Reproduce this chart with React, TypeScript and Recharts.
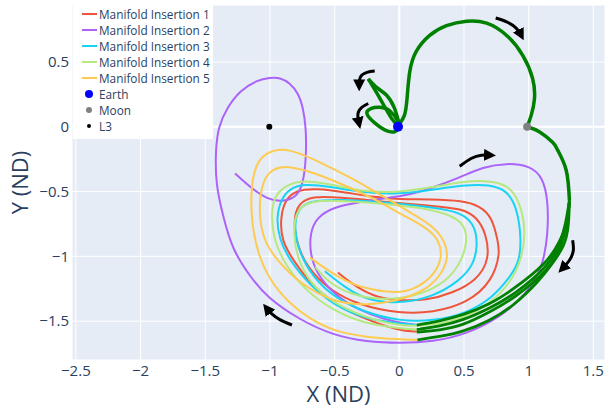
import React from 'react';
import {
  ScatterChart,
  Scatter,
  XAxis,
  YAxis,
  CartesianGrid,
  ReferenceLine,
} from 'recharts';

// axis ticks (ND units)
const X_TICKS = [-2.5, -2, -1.5, -1, -0.5, 0, 0.5, 1, 1.5];
const Y_TICKS = [-1.5, -1, -0.5, 0, 0.5];

// manifold insertion trajectories, [x, y] in ND units, starting at the insertion point
const INSERTION_1 = [
  [0.135, -1.58], [0.0, -1.575], [-0.305, -1.47], [-0.51, -1.36], [-0.69, -1.21], [-0.82, -1.03],
  [-0.91, -0.88], [-0.92, -0.7], [-0.88, -0.56], [-0.8, -0.49], [-0.64, -0.475], [-0.42, -0.505],
  [-0.19, -0.545], [0.0, -0.56], [0.24, -0.56], [0.49, -0.57], [0.62, -0.61], [0.72, -0.7],
  [0.76, -0.88], [0.78, -0.97], [0.72, -1.19], [0.53, -1.36], [0.26, -1.435], [0.0, -1.44],
  [-0.305, -1.38], [-0.54, -1.26], [-0.71, -1.09], [-0.79, -0.915], [-0.82, -0.72], [-0.78, -0.59],
  [-0.675, -0.535], [-0.46, -0.545], [-0.15, -0.575], [0.24, -0.61], [0.49, -0.63], [0.6, -0.7],
  [0.67, -0.82], [0.7, -1.02], [0.6, -1.185], [0.41, -1.285], [0.21, -1.34], [0.0, -1.34],
  [-0.17, -1.32], [-0.33, -1.24], [-0.475, -1.125],
];

const INSERTION_2 = [
  [0.135, -1.53], [0.0, -1.51], [-0.1, -1.49], [-0.31, -1.42], [-0.51, -1.29], [-0.64, -1.13],
  [-0.69, -0.98], [-0.69, -0.82], [-0.64, -0.7], [-0.51, -0.62], [-0.31, -0.58], [-0.1, -0.55],
  [0.06, -0.53], [0.26, -0.47], [0.47, -0.39], [0.645, -0.31], [0.83, -0.28], [1.01, -0.3],
  [1.11, -0.39], [1.15, -0.57], [1.15, -0.82], [1.11, -1.085], [0.985, -1.29], [0.78, -1.47],
  [0.52, -1.6], [0.26, -1.66], [0.0, -1.67], [-0.25, -1.66], [-0.51, -1.61], [-0.77, -1.49],
  [-1.02, -1.32], [-1.15, -1.16], [-1.29, -0.95], [-1.36, -0.7], [-1.42, -0.44], [-1.42, -0.18],
  [-1.4, 0.0], [-1.33, 0.15], [-1.23, 0.28], [-1.1, 0.36], [-1.0, 0.38], [-0.92, 0.38],
  [-0.85, 0.34], [-0.78, 0.26], [-0.745, 0.15], [-0.72, 0.0], [-0.72, -0.26], [-0.745, -0.44],
  [-0.79, -0.54], [-0.9, -0.58], [-1.02, -0.56], [-1.15, -0.47], [-1.27, -0.36],
];

const INSERTION_3 = [
  [0.135, -1.53], [0.0, -1.52], [-0.27, -1.48], [-0.5, -1.38], [-0.69, -1.225], [-0.85, -1.03],
  [-0.93, -0.86], [-0.95, -0.7], [-0.915, -0.56], [-0.85, -0.48], [-0.745, -0.44], [-0.54, -0.46],
  [-0.27, -0.51], [0.0, -0.52], [0.24, -0.49], [0.49, -0.45], [0.7, -0.445], [0.83, -0.49],
  [0.91, -0.62], [0.945, -0.875], [0.925, -1.05], [0.855, -1.16], [0.72, -1.32], [0.52, -1.44],
  [0.26, -1.5], [0.0, -1.5], [-0.27, -1.43], [-0.5, -1.32], [-0.675, -1.155], [-0.78, -0.955],
  [-0.815, -0.76], [-0.78, -0.63], [-0.69, -0.57], [-0.46, -0.56], [-0.15, -0.58], [0.24, -0.62],
  [0.49, -0.66], [0.59, -0.77], [0.605, -0.93], [0.57, -1.07], [0.47, -1.185], [0.26, -1.315],
  [0.0, -1.365], [-0.25, -1.34], [-0.42, -1.24], [-0.575, -1.115],
];

const INSERTION_4 = [
  [0.135, -1.565], [0.0, -1.555], [-0.27, -1.52], [-0.51, -1.42], [-0.73, -1.26], [-0.88, -1.07],
  [-0.97, -0.875], [-0.99, -0.68], [-0.97, -0.545], [-0.89, -0.46], [-0.77, -0.41], [-0.54, -0.44],
  [-0.27, -0.505], [0.0, -0.505], [0.24, -0.47], [0.49, -0.42], [0.7, -0.415], [0.84, -0.45],
  [0.93, -0.57], [0.98, -0.8], [0.945, -1.03], [0.855, -1.21], [0.7, -1.365], [0.52, -1.47],
  [0.26, -1.535], [0.0, -1.54], [-0.27, -1.47], [-0.51, -1.36], [-0.69, -1.21], [-0.79, -1.015],
  [-0.82, -0.815], [-0.8, -0.645], [-0.69, -0.57], [-0.46, -0.57], [-0.15, -0.59], [0.24, -0.63],
  [0.47, -0.71], [0.53, -0.82], [0.5, -1.01], [0.37, -1.2], [0.13, -1.31], [-0.13, -1.34],
  [-0.38, -1.295], [-0.55, -1.2], [-0.65, -1.08],
];

const INSERTION_5 = [
  [0.14, -1.645], [0.0, -1.64], [-0.25, -1.625], [-0.5, -1.58], [-0.69, -1.485], [-0.86, -1.355],
  [-1.0, -1.185], [-1.09, -0.99], [-1.14, -0.76], [-1.15, -0.49], [-1.11, -0.28], [-1.02, -0.195],
  [-0.9, -0.165], [-0.77, -0.205], [-0.64, -0.26], [-0.38, -0.39], [-0.205, -0.49], [-0.035, -0.59],
  [0.135, -0.69], [0.31, -0.8], [0.39, -0.98], [0.335, -1.13], [0.21, -1.26], [0.0, -1.34],
  [-0.25, -1.38], [-0.51, -1.355], [-0.77, -1.21], [-0.945, -1.03], [-1.055, -0.875], [-1.09, -0.62],
  [-1.055, -0.41], [-0.98, -0.32], [-0.85, -0.3], [-0.64, -0.36], [-0.38, -0.47], [-0.165, -0.57],
  [0.0, -0.67], [0.21, -0.775], [0.31, -0.875], [0.335, -1.01], [0.26, -1.16], [0.105, -1.26],
  [-0.02, -1.285], [-0.28, -1.25], [-0.48, -1.16], [-0.69, -1.01],
];

// transfer (green): Earth loops, lunar flyby, then branches down to each insertion
const EARTH_LOOP = [
  [-0.01, 0.0], [-0.03, -0.035], [-0.1, -0.03], [-0.19, 0.03], [-0.25, 0.1], [-0.22, 0.14],
  [-0.15, 0.15], [-0.07, 0.12], [-0.01, 0.04], [0.0, 0.0],
];
const EARTH_PETAL_OUT = [[0.0, 0.0], [-0.06, 0.065], [-0.15, 0.22], [-0.24, 0.37]];
const EARTH_PETAL_BACK = [[-0.24, 0.37], [-0.17, 0.3], [-0.1, 0.245], [-0.04, 0.15], [0.0, 0.02]];
const TO_MOON = [
  [0.0, 0.02], [0.04, 0.09], [0.06, 0.22], [0.08, 0.42], [0.13, 0.58], [0.235, 0.705],
  [0.365, 0.78], [0.52, 0.815], [0.675, 0.8], [0.83, 0.705], [0.955, 0.55], [1.03, 0.375],
  [1.045, 0.22], [1.02, 0.09], [0.988, 0.0],
];
const FROM_MOON = [[0.988, 0.0], [1.085, -0.04], [1.185, -0.12], [1.224, -0.18], [1.29, -0.335], [1.315, -0.57]];
const BRANCH_A = [
  [1.315, -0.57], [1.3, -0.74], [1.24, -0.89], [1.14, -1.055], [0.875, -1.26], [0.7, -1.37],
  [0.49, -1.455], [0.31, -1.5], [0.135, -1.53],
];
const BRANCH_B = [
  [1.315, -0.57], [1.285, -0.755], [1.245, -0.9], [1.155, -1.075], [0.89, -1.295], [0.7, -1.4],
  [0.49, -1.495], [0.31, -1.54], [0.135, -1.565],
];
const BRANCH_C = [
  [1.315, -0.57], [1.295, -0.77], [1.255, -0.91], [1.17, -1.095], [0.885, -1.325], [0.7, -1.43],
  [0.49, -1.535], [0.31, -1.57], [0.135, -1.585],
];
const BRANCH_D = [
  [1.315, -0.57], [1.31, -0.77], [1.28, -0.915], [1.185, -1.055], [1.085, -1.185], [0.875, -1.39],
  [0.7, -1.495], [0.49, -1.585], [0.31, -1.62], [0.14, -1.645],
];

// direction arrows
const ARROW_TOP = [[0.745, 0.84], [0.83, 0.81], [0.905, 0.76], [0.945, 0.7]];
const ARROW_RIGHT = [[1.34, -0.875], [1.345, -0.955], [1.315, -1.03], [1.255, -1.1]];
const ARROW_MID = [[0.467, -0.305], [0.555, -0.245], [0.635, -0.22], [0.71, -0.22]];
const ARROW_BOTTOM = [[-0.83, -1.53], [-0.92, -1.49], [-0.99, -1.44], [-1.03, -1.395]];
const ARROW_EARTH_UPPER = [[-0.19, 0.43], [-0.25, 0.42], [-0.3, 0.385], [-0.31, 0.31]];
const ARROW_EARTH_LOWER = [[-0.24, 0.18], [-0.29, 0.15], [-0.32, 0.1], [-0.31, 0.02]];

// bodies
const EARTH = [[-0.01, 0.0]];
const MOON = [[0.988, 0.0]];
const L3 = [[-1.005, 0.0]];

const toPts = (pairs: number[][]) => pairs.map(([x, y]) => ({ x, y }));

const MANIFOLDS = [
  { name: 'Manifold Insertion 1', color: '#EF553B', data: INSERTION_1 },
  { name: 'Manifold Insertion 2', color: '#AB63FA', data: INSERTION_2 },
  { name: 'Manifold Insertion 3', color: '#19D3F3', data: INSERTION_3 },
  { name: 'Manifold Insertion 4', color: '#B6E880', data: INSERTION_4 },
  { name: 'Manifold Insertion 5', color: '#FECB52', data: INSERTION_5 },
];
const TRANSFER = [EARTH_LOOP, EARTH_PETAL_OUT, EARTH_PETAL_BACK, TO_MOON, FROM_MOON];
const BRANCHES = [BRANCH_A, BRANCH_B, BRANCH_C, BRANCH_D];
const ARROWS = [ARROW_TOP, ARROW_RIGHT, ARROW_MID, ARROW_BOTTOM, ARROW_EARTH_UPPER, ARROW_EARTH_LOWER];
const BODIES = [
  { name: 'Earth', color: '#0000FF', r: 5, data: EARTH },
  { name: 'Moon', color: '#808080', r: 4, data: MOON },
  { name: 'L3', color: '#000000', r: 3, data: L3 },
];

const FONT = '"Open Sans", verdana, arial, sans-serif';
const INK = '#2a3f5f';

const noDot = () => <g />;
const fmt = (v: number) => (v < 0 ? `\u2212${Math.abs(v)}` : String(v));

const XTitle = (props: any) => {
  const { viewBox } = props;
  return (
    <text x={viewBox.x + viewBox.width / 2} y={393} textAnchor="middle" dominantBaseline="central"
      fontFamily={FONT} fontSize={22} fill={INK}>X (ND)</text>
  );
};

const YTitle = (props: any) => {
  const { viewBox } = props;
  const cx = 19;
  const cy = viewBox.y + viewBox.height / 2;
  return (
    <text x={cx} y={cy} transform={`rotate(-90 ${cx} ${cy})`} textAnchor="middle" dominantBaseline="central"
      fontFamily={FONT} fontSize={22} fill={INK}>Y (ND)</text>
  );
};

function LegendBox() {
  return (
    <div style={{ position: 'absolute', left: 73, top: 5, width: 140, height: 134, background: '#fff',
      fontFamily: FONT, fontSize: 11.8, color: INK, paddingTop: 1, boxSizing: 'border-box' }}>
      {MANIFOLDS.map((m) => (
        <div key={m.name} style={{ height: 16, display: 'flex', alignItems: 'center' }}>
          <svg width={26} height={16}><line x1={9} x2={24} y1={8} y2={8} stroke={m.color} strokeWidth={2} /></svg>
          <span>{m.name}</span>
        </div>
      ))}
      {BODIES.map((b) => (
        <div key={b.name} style={{ height: 16, display: 'flex', alignItems: 'center' }}>
          <svg width={26} height={16}><circle cx={16} cy={8} r={b.r - 1} fill={b.color} /></svg>
          <span>{b.name}</span>
        </div>
      ))}
    </div>
  );
}

export default function App() {
  return (
    <div style={{ position: 'relative', width: 611, height: 409, background: '#fff' }}>
      <style>{'body{margin:0}'}</style>
      <ScatterChart width={611} height={409} margin={{ top: 5, right: 6, bottom: 0, left: 0 }}>
        <defs>
          <marker id="arrowHead" viewBox="0 0 10 10" refX="6" refY="5" markerWidth="4" markerHeight="4" orient="auto">
            <path d="M0,0 L10,5 L0,10 z" fill="#000" />
          </marker>
        </defs>
        <CartesianGrid fill="#E5ECF6" stroke="#fff" strokeWidth={1} />
        <XAxis type="number" dataKey="x" domain={[-2.53, 1.59]} ticks={X_TICKS} allowDataOverflow
          height={49} tickLine={false} axisLine={false} tickSize={0} tickMargin={5} tickFormatter={fmt}
          tick={{ fill: INK, fontSize: 15, fontFamily: FONT }} interval={0} label={<XTitle />} />
        <YAxis type="number" dataKey="y" domain={[-1.8, 0.94]} ticks={Y_TICKS} allowDataOverflow
          width={72} tickLine={false} axisLine={false} tickSize={0} tickMargin={3} tickFormatter={fmt}
          tick={{ fill: INK, fontSize: 15, fontFamily: FONT }} interval={0} label={<YTitle />} />
        <ReferenceLine x={0} stroke="#fff" strokeWidth={2} />
        <ReferenceLine y={0} stroke="#fff" strokeWidth={2} />
        {MANIFOLDS.map((m) => (
          <Scatter key={m.name} name={m.name} data={toPts(m.data)} fill={m.color}
            line={{ stroke: m.color, strokeWidth: 2 }} lineJointType="basis" shape={noDot}
            isAnimationActive={false} />
        ))}
        {TRANSFER.map((seg, i) => (
          <Scatter key={`t${i}`} data={toPts(seg)} fill="#008000"
            line={{ stroke: '#008000', strokeWidth: 3.5 }} lineJointType="natural" shape={noDot}
            isAnimationActive={false} />
        ))}
        {BRANCHES.map((seg, i) => (
          <Scatter key={`b${i}`} data={toPts(seg)} fill="#008000"
            line={{ stroke: '#008000', strokeWidth: 2.8 }} lineJointType="basis" shape={noDot}
            isAnimationActive={false} />
        ))}
        {ARROWS.map((seg, i) => (
          <Scatter key={`a${i}`} data={toPts(seg)} fill="#000"
            line={{ stroke: '#000', strokeWidth: 3, markerEnd: 'url(#arrowHead)' }} lineJointType="natural"
            shape={noDot} isAnimationActive={false} />
        ))}
        {BODIES.map((b) => (
          <Scatter key={b.name} name={b.name} data={toPts(b.data)} fill={b.color} isAnimationActive={false}
            shape={(p: any) => <circle cx={p.cx} cy={p.cy} r={b.r} fill={b.color} />} />
        ))}
      </ScatterChart>
      <LegendBox />
    </div>
  );
}
